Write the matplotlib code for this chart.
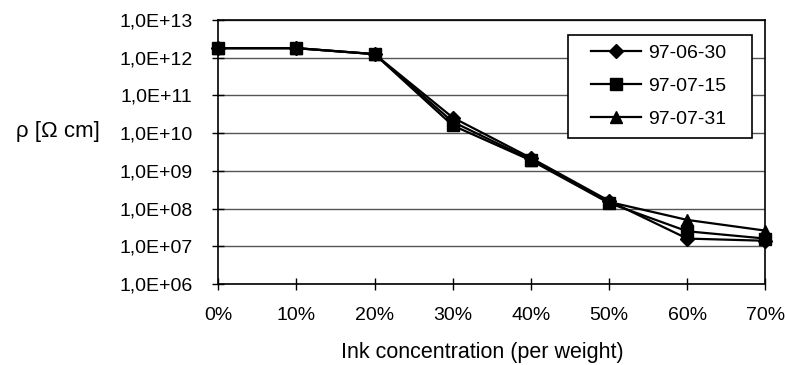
import math
import matplotlib.pyplot as plt
from matplotlib.patches import Rectangle
from matplotlib.ticker import FixedLocator, FuncFormatter

conc = [0, 10, 20, 30, 40, 50, 60, 70]
s_0630 = [1.8e12, 1.8e12, 1.25e12, 2.6e10, 2.2e9, 1.6e8, 1.6e7, 1.4e7]
s_0715 = [1.8e12, 1.8e12, 1.25e12, 1.6e10, 1.9e9, 1.4e8, 2.5e7, 1.6e7]
s_0731 = [1.8e12, 1.8e12, 1.25e12, 2.0e10, 2.0e9, 1.5e8, 5.0e7, 2.6e7]
labels = ['97-06-30', '97-07-15', '97-07-31']

plt.rcParams['font.family'] = ['Liberation Sans', 'DejaVu Sans']
fig = plt.figure(figsize=(7.85, 3.65), dpi=100)
ax = fig.add_axes([0.278, 0.222, 0.697, 0.723])

ax.plot(conc, s_0630, 'k-', marker='D', markersize=7, lw=1.6, label=labels[0], clip_on=False, zorder=3)
ax.plot(conc, s_0715, 'k-', marker='s', markersize=8, lw=1.6, label=labels[1], clip_on=False, zorder=3)
ax.plot(conc, s_0731, 'k-', marker='^', markersize=8, lw=1.6, label=labels[2], clip_on=False, zorder=3)

ax.set_yscale('log')
ax.set_ylim(1e6, 1e13)
ax.set_xlim(0, 70)
ax.yaxis.set_major_locator(FixedLocator([10.0 ** k for k in range(6, 14)]))
ax.yaxis.set_minor_locator(FixedLocator([]))
ax.yaxis.set_major_formatter(FuncFormatter(lambda v, p: '1,0E+%02d' % round(math.log10(v))))
ax.set_xticks(conc)
ax.set_xticklabels(['%d%%' % c for c in conc])
ax.grid(axis='y', color='#555555', lw=1)
ax.set_axisbelow(True)
for sp in ax.spines.values():
    sp.set_color('black')
    sp.set_linewidth(1.2)
ax.tick_params(axis='both', labelsize=14, direction='inout', length=9, color='black', width=1)
ax.tick_params(axis='x', pad=12)
ax.tick_params(axis='y', pad=14)

fig.text(0.074, 0.64, 'ρ [Ω cm]', fontsize=16, ha='center', va='center')
fig.text(0.615, 0.033, 'Ink concentration (per weight)', fontsize=15.5, ha='center', va='center')

# legend frame drawn by hand so the padding can be wider than tall
box = Rectangle((0.640, 0.553), 0.336, 0.390, transform=ax.transAxes, facecolor='white',
                edgecolor='black', lw=1.2, zorder=4, clip_on=False)
ax.add_patch(box)
leg = ax.legend(loc='upper left', bbox_to_anchor=(0.682, 0.909), borderaxespad=0, borderpad=0,
                fontsize=14, frameon=False, handlelength=2.55, handletextpad=0.35, labelspacing=0.8)
leg.set_zorder(5)

fig.savefig('out.png', dpi=100)
